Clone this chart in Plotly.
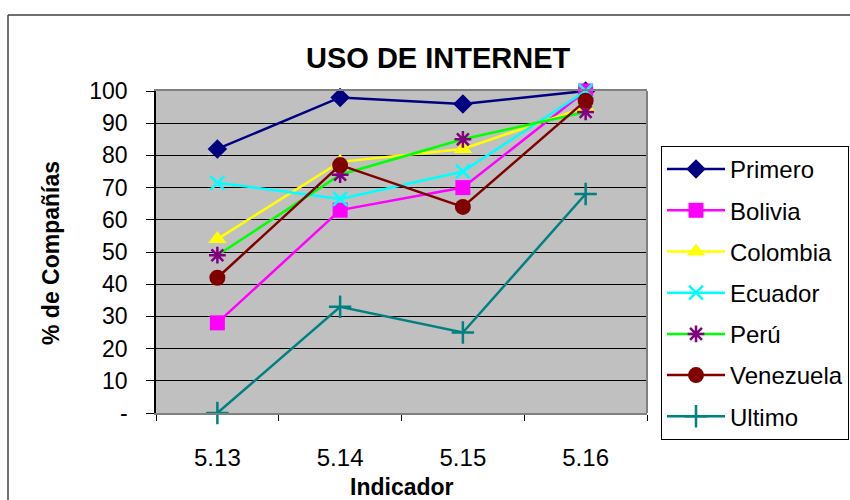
import plotly.graph_objects as go

# Indicators on the x axis
indicadores = ["5.13", "5.14", "5.15", "5.16"]

# % of companies per country / reference line
primero = [82, 98, 96, 100]
bolivia = [28, 63, 70, 100]
colombia = [54, 78, 82, 95]
ecuador = [71.5, 66.5, 75, 100]
peru = [49, 74, 85, 93.5]
venezuela = [42, 77, 64, 97]
ultimo = [0, 33, 25, 68]

y_ticks = [0, 10, 20, 30, 40, 50, 60, 70, 80, 90, 100]
y_tick_text = ["-"] + [str(v) for v in y_ticks[1:]]

FONT = "Liberation Sans, Arial, sans-serif"
W, H = 850, 500
ML, MR, MT, MB = 156, 203, 91, 87
PW, PH = W - ML - MR, H - MT - MB


def px_x(px):
    return (px - ML) / PW


def px_y(py):
    return (H - MB - py) / PH


series = [
    ("Primero", primero, "#000080", dict(symbol="diamond", size=15, color="#000080")),
    ("Bolivia", bolivia, "#FF00FF", dict(symbol="square", size=15, color="#FF00FF")),
    ("Colombia", colombia, "#FFFF00", dict(symbol="triangle-up", size=16, color="#FFFF00")),
    ("Ecuador", ecuador, "#00FFFF", dict(symbol="x-thin-open", size=14, color="#00FFFF",
                                         line=dict(color="#00FFFF", width=2.5))),
    ("Perú", peru, "#00FF00", dict(symbol="asterisk-open", size=14, color="#800080",
                                    line=dict(color="#800080", width=2.5))),
    ("Venezuela", venezuela, "#800000", dict(symbol="circle", size=16, color="#800000")),
    ("Ultimo", ultimo, "#008080", dict(symbol="cross-thin-open", size=16, color="#008080",
                                        line=dict(color="#008080", width=2.5))),
]

fig = go.Figure()
for name, vals, color, marker in series:
    fig.add_trace(go.Scatter(
        x=indicadores, y=vals, name=name, mode="lines+markers",
        line=dict(color=color, width=2.5), marker=marker,
        legendgroup=name, cliponaxis=False,
    ))

fig.update_layout(
    width=W, height=H, autosize=False,
    margin=dict(l=ML, r=MR, t=MT, b=MB, pad=0),
    paper_bgcolor="white", plot_bgcolor="#C0C0C0",
    font=dict(family=FONT, size=23, color="black"),
    showlegend=True,
    legend=dict(
        xref="container", yref="container",
        x=661 / W, y=1 - 146 / H, xanchor="left", yanchor="top",
        bordercolor="black", borderwidth=1, bgcolor="white",
        font=dict(family=FONT, size=24, color="black"),
        traceorder="grouped", tracegroupgap=7, itemwidth=58,
        maxheight=420,
    ),
    xaxis=dict(
        type="category", range=[-0.5, 3.5], tickson="boundaries",
        ticks="outside", ticklen=6, tickcolor="black", tickwidth=1,
        showgrid=False, showline=True, linecolor="#808080", linewidth=2,
        mirror=True, ticklabelstandoff=22, zeroline=False,
        tickfont=dict(family=FONT, size=24),
    ),
    yaxis=dict(
        range=[0, 100], tickvals=y_ticks, ticktext=y_tick_text,
        ticks="outside", ticklen=8, tickcolor="black",
        showgrid=True, gridcolor="black", gridwidth=1,
        showline=True, linecolor="black", linewidth=1.5,
        zeroline=False, ticklabelstandoff=14,
        tickfont=dict(family=FONT, size=23),
    ),
    shapes=[
        # right edge of the plot area
        dict(type="line", xref="paper", yref="paper", x0=1, x1=1, y0=0, y1=1,
             line=dict(color="#808080", width=2)),
        # outer chart frame (top and left edges)
        dict(type="line", xref="paper", yref="paper",
             x0=px_x(8), x1=px_x(W + 5), y0=px_y(15), y1=px_y(15),
             line=dict(color="#404040", width=1.5)),
        dict(type="line", xref="paper", yref="paper",
             x0=px_x(8), x1=px_x(8), y0=px_y(15), y1=px_y(H + 5),
             line=dict(color="#404040", width=1.5)),
    ],
    annotations=[
        dict(text="<b>USO DE INTERNET</b>", xref="paper", yref="paper",
             x=px_x(438), y=px_y(58), showarrow=False,
             xanchor="center", yanchor="middle",
             font=dict(family=FONT, size=29, color="black")),
        dict(text="<b>Indicador</b>", xref="paper", yref="paper",
             x=px_x(402), y=px_y(487), showarrow=False,
             xanchor="center", yanchor="middle",
             font=dict(family=FONT, size=23, color="black")),
        dict(text="<b>% de Compañías</b>", xref="paper", yref="paper",
             x=px_x(51), y=px_y(253), showarrow=False, textangle=-90,
             xanchor="center", yanchor="middle",
             font=dict(family=FONT, size=23, color="black")),
    ],
)

fig.write_html("out.html")
